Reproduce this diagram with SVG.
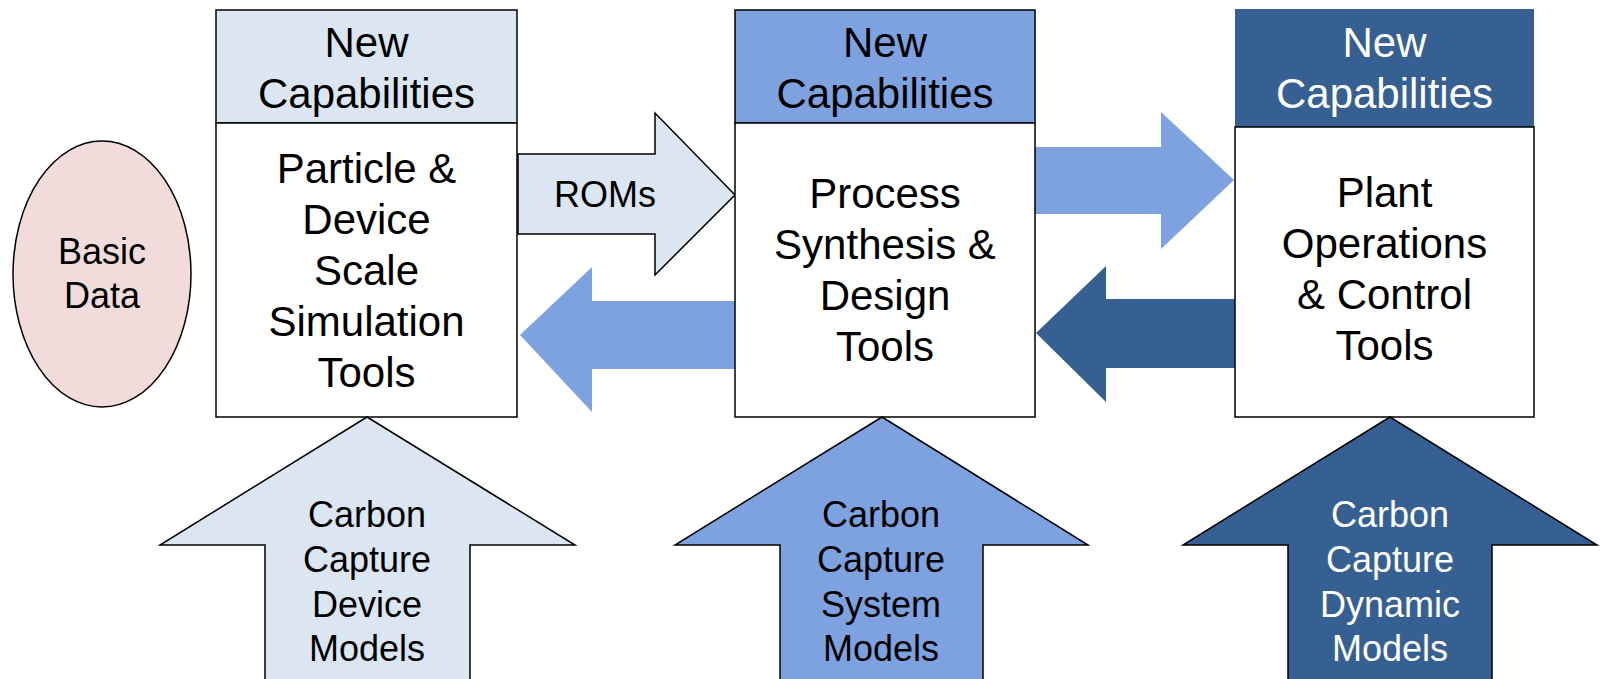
<svg xmlns="http://www.w3.org/2000/svg" width="1602" height="679" viewBox="0 0 1602 679">
<style>
text{font-family:"Liberation Sans",Arial,sans-serif;text-anchor:middle}
.big{font-size:42px}
.mid{font-size:36px}
.dk{fill:#000}
.wt{fill:#fff}
.ln{stroke:#000;stroke-width:1.5}
.light{fill:#dce6f2}
.med{fill:#7ea1e0}
.dark{fill:#366092}
</style>
<rect width="1602" height="679" fill="#fff"/>
<g id="connectors">
  <polygon class="light ln" points="518,154 655,154 655,113 735,195 655,275 655,234 518,234"/>
  <text class="mid dk" x="605" y="207">ROMs</text>
  <polygon class="med" points="735,301 592,301 592,267 520,335 592,412 592,369 735,369"/>
  <polygon class="med" points="1035,147 1161,147 1161,112 1234,180 1161,249 1161,214 1035,214"/>
  <polygon class="dark" points="1236,299 1106,299 1106,266 1036,333 1106,402 1106,368 1236,368"/>
</g>
<g id="basic-data">
  <ellipse cx="102" cy="274" rx="89" ry="133" fill="#f2dcdb" class="ln"/>
  <text class="mid dk" x="102" y="264">Basic</text>
  <text class="mid dk" x="102" y="308">Data</text>
</g>
<g id="particle-device">
  <rect x="216" y="10" width="301" height="113" class="light ln"/>
  <rect x="216" y="123" width="301" height="294" fill="#fff" class="ln"/>
  <text class="big dk" x="366.5" y="57">New</text>
  <text class="big dk" x="366.5" y="108">Capabilities</text>
  <text class="big dk" x="366.5" y="183">Particle &amp;</text>
  <text class="big dk" x="366.5" y="234">Device</text>
  <text class="big dk" x="366.5" y="285">Scale</text>
  <text class="big dk" x="366.5" y="336">Simulation</text>
  <text class="big dk" x="366.5" y="387">Tools</text>
</g>
<g id="process-synthesis">
  <rect x="735" y="10" width="300" height="113" class="med ln"/>
  <rect x="735" y="123" width="300" height="294" fill="#fff" class="ln"/>
  <text class="big dk" x="885" y="57">New</text>
  <text class="big dk" x="885" y="108">Capabilities</text>
  <text class="big dk" x="885" y="208">Process</text>
  <text class="big dk" x="885" y="259">Synthesis &amp;</text>
  <text class="big dk" x="885" y="310">Design</text>
  <text class="big dk" x="885" y="361">Tools</text>
</g>
<g id="plant-operations">
  <rect x="1235" y="9" width="299" height="118" class="dark"/>
  <rect x="1235" y="127" width="299" height="290" fill="#fff" class="ln"/>
  <text class="big wt" x="1384.5" y="57">New</text>
  <text class="big wt" x="1384.5" y="108">Capabilities</text>
  <text class="big dk" x="1384.5" y="207">Plant</text>
  <text class="big dk" x="1384.5" y="258">Operations</text>
  <text class="big dk" x="1384.5" y="309">&amp; Control</text>
  <text class="big dk" x="1384.5" y="360">Tools</text>
</g>
<g id="device-models">
  <polygon class="light ln" points="367,417 575,545 470,545 470,690 265,690 265,545 160,545"/>
  <text class="mid dk" x="367" y="527">Carbon</text>
  <text class="mid dk" x="367" y="572">Capture</text>
  <text class="mid dk" x="367" y="617">Device</text>
  <text class="mid dk" x="367" y="661">Models</text>
</g>
<g id="system-models">
  <polygon class="med ln" points="882,417 1088,545 983,545 983,690 780,690 780,545 675,545"/>
  <text class="mid dk" x="881" y="527">Carbon</text>
  <text class="mid dk" x="881" y="572">Capture</text>
  <text class="mid dk" x="881" y="617">System</text>
  <text class="mid dk" x="881" y="661">Models</text>
</g>
<g id="dynamic-models">
  <polygon class="dark ln" points="1390,417 1597,545 1492,545 1492,690 1288,690 1288,545 1183,545"/>
  <text class="mid wt" x="1390" y="527">Carbon</text>
  <text class="mid wt" x="1390" y="572">Capture</text>
  <text class="mid wt" x="1390" y="617">Dynamic</text>
  <text class="mid wt" x="1390" y="661">Models</text>
</g>
</svg>
